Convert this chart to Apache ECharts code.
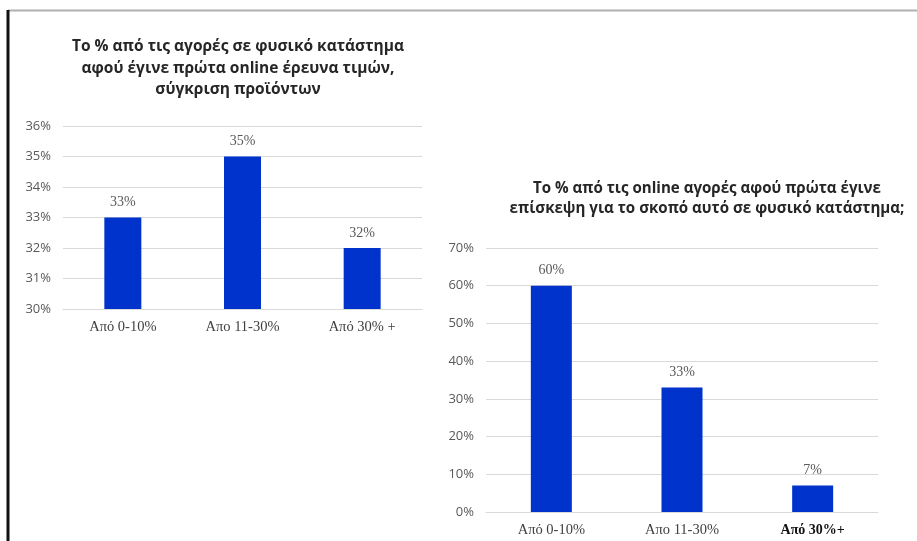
<!DOCTYPE html>
<html>
<head>
<meta charset="utf-8">
<style>
  html, body { margin: 0; padding: 0; background: #ffffff; }
  #chart { width: 917px; height: 541px; }
</style>
<script src="https://cdn.jsdelivr.net/npm/echarts@6/dist/echarts.min.js"></script>
</head>
<body>
<div id="chart"></div>
<script>
// Left chart: in-store purchases after online research
const storeCategories = ['Από 0-10%', 'Απο 11-30%', 'Από 30% +'];
const storeValues = [33, 35, 32];
const storeTicks = { min: 30, max: 36, interval: 1 };
const storeTitle = 'Το % από τις αγορές σε φυσικό κατάστημα\nαφού έγινε πρώτα online έρευνα τιμών,\nσύγκριση προϊόντων';

// Right chart: online purchases after a store visit
const onlineCategories = ['Από 0-10%', 'Απο 11-30%', 'Από 30%+'];
const onlineValues = [60, 33, 7];
const onlineTicks = { min: 0, max: 70, interval: 10 };
const onlineTitle = 'Το % από τις online αγορές αφού πρώτα έγινε\nεπίσκεψη για το σκοπό αυτό σε φυσικό κατάστημα;';

const BAR = '#0033cc';
const GRID_LINE = '#d9d9d9';
const SANS = '"Open Sans", "Noto Sans", sans-serif';
const SERIF = '"Liberation Serif", "DejaVu Serif", serif';

const chart = echarts.init(document.getElementById('chart'), null, { renderer: 'canvas' });

function yAxis(gridIndex, ticks) {
  return {
    type: 'value', gridIndex,
    min: ticks.min, max: ticks.max, interval: ticks.interval,
    axisLine: { show: false }, axisTick: { show: false },
    axisLabel: { formatter: '{value}%', color: '#595959', fontFamily: SANS, fontSize: 13, margin: 12 },
    splitLine: { lineStyle: { color: GRID_LINE, width: 1 } }
  };
}

function xAxis(gridIndex, cats, emphasizeLast) {
  return {
    type: 'category', gridIndex, data: cats,
    axisLine: { lineStyle: { color: GRID_LINE } }, axisTick: { show: false },
    axisLabel: {
      color: '#404040', fontFamily: SERIF, fontSize: 14.5, margin: 11,
      formatter: (v, i) => (emphasizeLast && i === cats.length - 1) ? '{b|' + v + '}' : v,
      rich: { b: { color: '#111111', fontWeight: 'bold', fontFamily: SERIF, fontSize: 14 } }
    }
  };
}

function barSeries(idx, values, barWidth) {
  return {
    type: 'bar', xAxisIndex: idx, yAxisIndex: idx,
    data: values, barWidth,
    itemStyle: { color: BAR },
    label: { show: true, position: 'top', distance: 8, formatter: '{c}%',
             color: '#595959', fontFamily: SERIF, fontSize: 14 },
    silent: true
  };
}

chart.setOption({
  animation: false,
  backgroundColor: '#ffffff',
  title: [
    { text: storeTitle, left: 233, top: 31, textAlign: 'center',
      textStyle: { fontFamily: SANS, fontWeight: 'bold', fontSize: 15.5, color: '#262626', lineHeight: 21.5 } },
    { text: onlineTitle, left: 702, top: 174, textAlign: 'center',
      textStyle: { fontFamily: SANS, fontWeight: 'bold', fontSize: 15.1, color: '#262626', lineHeight: 20 } }
  ],
  grid: [
    { left: 63, right: 495, top: 126, bottom: 232 },
    { left: 486, right: 39, top: 248, bottom: 29 }
  ],
  xAxis: [xAxis(0, storeCategories, false), xAxis(1, onlineCategories, true)],
  yAxis: [yAxis(0, storeTicks), yAxis(1, onlineTicks)],
  series: [barSeries(0, storeValues, 37), barSeries(1, onlineValues, 41)],
  graphic: [
    { type: 'line', shape: { x1: 8, y1: 10.5, x2: 917, y2: 10.5 }, style: { stroke: '#b0b0b0', lineWidth: 2 } },
    { type: 'line', shape: { x1: 8, y1: 10, x2: 8, y2: 541 }, style: { stroke: '#111111', lineWidth: 3 } }
  ]
});
</script>
</body>
</html>
